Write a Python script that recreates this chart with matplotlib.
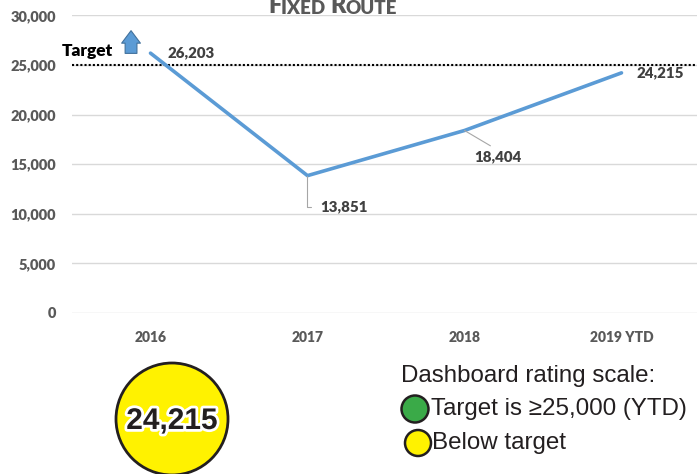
import matplotlib
matplotlib.use("Agg")
import matplotlib.pyplot as plt
from matplotlib.patches import Circle, FancyArrowPatch
import matplotlib.patheffects as pe

# chart data
years = ["2016", "2017", "2018", "2019 YTD"]
ridership = [26203, 13851, 18404, 24215]
target = 25000
y_ticks = [0, 5000, 10000, 15000, 20000, 25000, 30000]
current_value = "24,215"
legend_title = "Dashboard rating scale:"
legend_items = ["Target is \u226525,000 (YTD)", "Below target"]

LINE_BLUE = "#5B9BD5"
LABEL_GREY = "#404040"
AXIS_GREY = "#595959"
narrow = ["Lato", "DejaVu Sans"]
arial = ["Liberation Sans", "DejaVu Sans"]

fig = plt.figure(figsize=(6.97, 4.74), dpi=100)
ax = fig.add_axes([0.1033, 0.3397, 0.901, 0.6276])

x = list(range(len(years)))
ax.plot(x, ridership, color=LINE_BLUE, lw=2.6, solid_capstyle="round", zorder=3)
ax.axhline(target, color="black", ls=(0, (1, 1)), lw=1.5, zorder=2)

ax.set_xlim(-0.5, len(years) - 0.5)
ax.set_ylim(0, 30000)
ax.set_yticks(y_ticks)
ax.set_yticklabels([f"{v:,}" for v in y_ticks], family=narrow, fontsize=10.5,
                   fontweight="heavy", color=AXIS_GREY)
ax.set_xticks(x)
ax.set_xticklabels(years, family=narrow, fontsize=10, fontweight="heavy", color=AXIS_GREY)
ax.tick_params(axis="x", length=0, pad=13)
ax.tick_params(axis="y", length=0, pad=11.5)
ax.grid(axis="y", color="#D9D9D9", lw=1)
ax.set_axisbelow(True)
for s in ax.spines.values():
    s.set_visible(False)

# data labels
lbl = dict(family=narrow, fontsize=10.8, fontweight="heavy", color=LABEL_GREY,
           textcoords="offset pixels")
ax.annotate(f"{ridership[0]:,}", (x[0], ridership[0]), xytext=(17, 0), ha="left", va="center", **lbl)
ax.annotate(f"{ridership[1]:,}", (x[1], ridership[1]), xytext=(13, -31), ha="left", va="center",
            arrowprops=dict(arrowstyle="-", color="#A6A6A6", lw=0.8, shrinkA=5, shrinkB=0,
                            relpos=(0, 0.5),
                            connectionstyle="angle,angleA=0,angleB=90,rad=0"), **lbl)
ax.annotate(f"{ridership[2]:,}", (x[2], ridership[2]), xytext=(33, -26), ha="center", va="center",
            arrowprops=dict(arrowstyle="-", color="#A6A6A6", lw=0.8, shrinkA=2, shrinkB=0,
                            relpos=(0.5, 1)), **lbl)
ax.annotate(f"{ridership[3]:,}", (x[3], ridership[3]), xytext=(15, 0), ha="left", va="center", **lbl)

# target label and arrow
ax.annotate("Target", (-0.5, target), xytext=(-10, 14), textcoords="offset pixels",
            ha="left", va="center", family=narrow, fontsize=12.5, fontweight="heavy",
            color="black", annotation_clip=False)
ax.add_patch(FancyArrowPatch((-0.124, 25900), (-0.124, 28750),
                             arrowstyle="simple,head_width=13.5,head_length=9,tail_width=8.5",
                             mutation_scale=1, fc=LINE_BLUE, ec="#41719C", lw=0.8,
                             zorder=4, clip_on=False))

# overlay in pixel coordinates for title, badge and rating scale
ov = fig.add_axes([0, 0, 1, 1], zorder=5)
ov.set_xlim(0, 697)
ov.set_ylim(474, 0)
ov.axis("off")

# small-caps title
ttl = dict(color=AXIS_GREY, fontweight="heavy", family=narrow)
t = ov.text(268, 13, "F", fontsize=17, va="baseline", ha="left", **ttl)
t = ov.annotate("IXED ", (1, 0), xycoords=t, va="bottom", ha="left", fontsize=13.5, **ttl)
t = ov.annotate("R", (1, 0), xycoords=t, va="bottom", ha="left", fontsize=17, **ttl)
ov.annotate("OUTE", (1, 0), xycoords=t, va="bottom", ha="left", fontsize=13.5, **ttl)

# current value badge
ov.add_patch(Circle((172, 419), 56, fc="#FFF200", ec="#231F20", lw=2))
ov.text(172, 421, current_value, ha="center", va="center", family=arial, fontsize=21.5,
        fontweight="bold", color="#231F20",
        path_effects=[pe.withStroke(linewidth=4, foreground="white")])

# rating scale
fs = 17.4
ov.text(401, 376, legend_title, ha="left", va="center", family=arial, fontsize=fs, color="#231F20")
ov.add_patch(Circle((415, 409), 13.5, fc="#3AAA48", ec="#231F20", lw=1.8))
ov.text(431, 409, legend_items[0], ha="left", va="center", family=arial, fontsize=fs, color="#231F20")
ov.add_patch(Circle((418, 443), 13, fc="#FFF200", ec="#231F20", lw=1.8))
ov.text(432, 443, legend_items[1], ha="left", va="center", family=arial, fontsize=fs, color="#231F20")

fig.savefig("out.png", dpi=100)
